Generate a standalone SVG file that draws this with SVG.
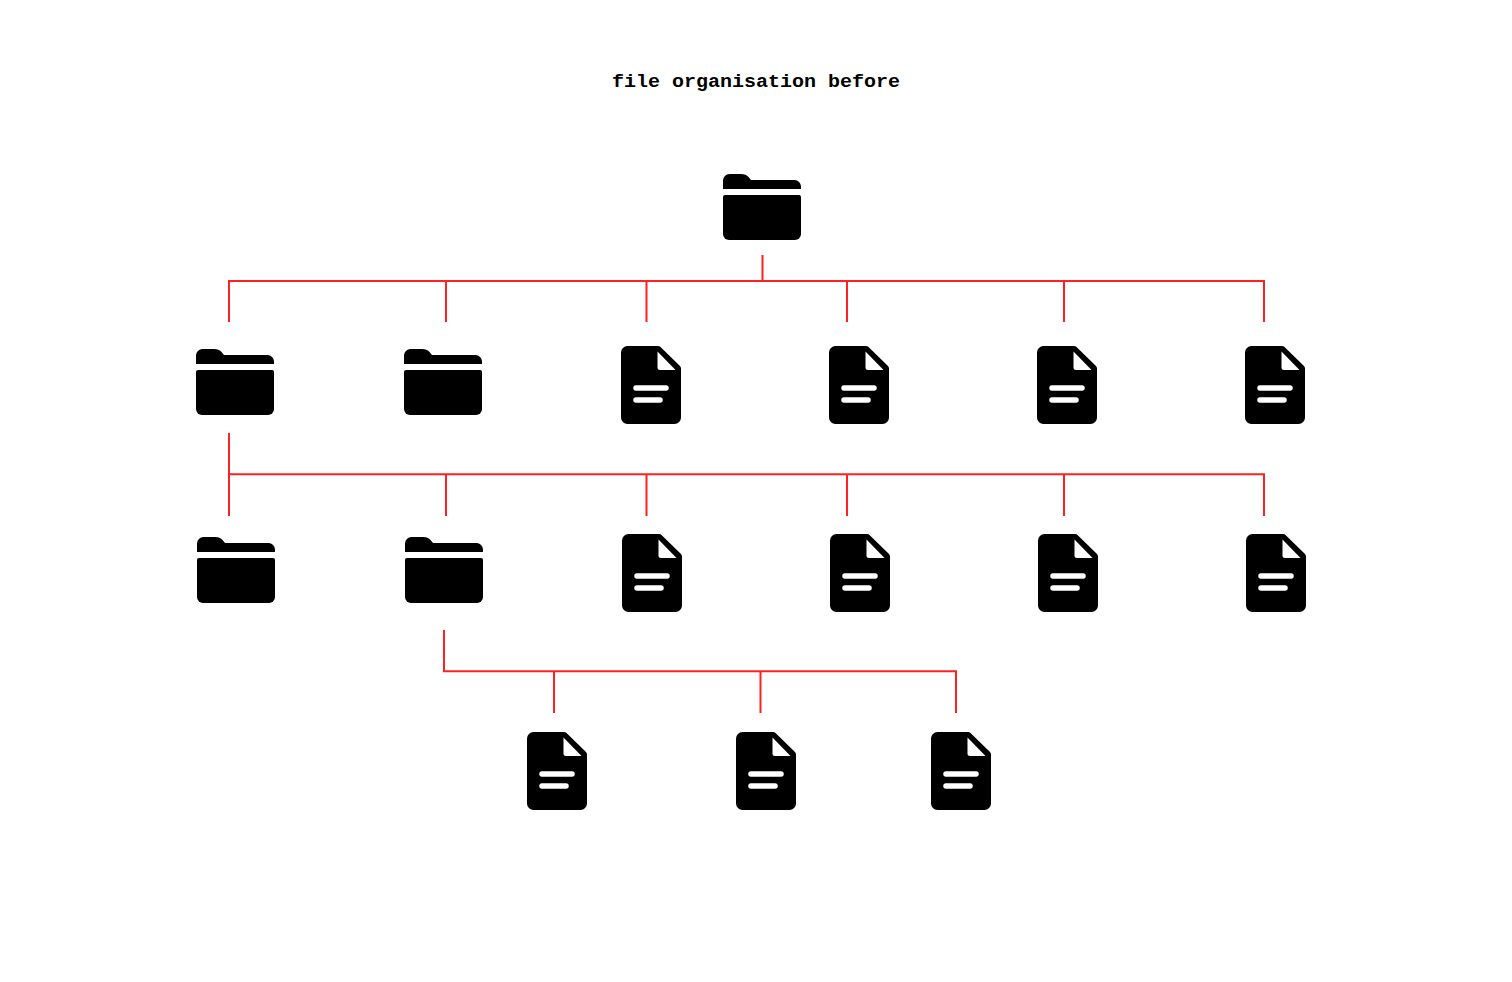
<svg xmlns="http://www.w3.org/2000/svg" xmlns:xlink="http://www.w3.org/1999/xlink" width="1512" height="982" viewBox="0 0 1512 982">
<style>
.title{font-family:"Liberation Mono","Courier New",monospace;font-size:18px;font-weight:700;fill:#000}
.conn{fill:none;stroke:#ff2020;stroke-width:2}
</style>
<defs>
<symbol id="folder" width="78" height="66" viewBox="0 0 78 66" overflow="visible">
<path d="M0 15V6.500A6.500 6.500 0 0 1 6.500 0H18Q23 0 25.500 3L28 6H71.500A6.500 6.500 0 0 1 78 12.500V15Z"/>
<path d="M2 21H76A2 2 0 0 1 78 23V60A6 6 0 0 1 72 66H6A6 6 0 0 1 0 60V23A2 2 0 0 1 2 21Z"/>
</symbol>
<symbol id="file" width="60" height="78" viewBox="0 0 60 78" overflow="visible">
<path d="M6.500 0H37Q38.500 0 39.500 1L59 20Q60 21 60 22.500V71.500A6.500 6.500 0 0 1 53.500 78H6.500A6.500 6.500 0 0 1 0 71.500V6.500A6.500 6.500 0 0 1 6.500 0Z"/>
<path d="M36.500 5.500L54.500 24H39Q36.500 24 36.500 21.500Z" fill="#fff"/>
<path d="M15 42H45M15 54H39" stroke="#fff" stroke-width="5.500" stroke-linecap="round" fill="none"/>
</symbol>
</defs>
<rect width="1512" height="982" fill="#fff"/>
<text id="title" class="title" x="612" y="87" textLength="288" lengthAdjust="spacingAndGlyphs">file organisation before</text>
<g id="connectors" class="conn">
<path d="M762.500 255V281M229 322V281H1264V322M446 281V322M646.500 281V322M847 281V322M1064 281V322"/>
<path d="M229 433V516M229 474.300H1264V516M446 474.300V516M646.500 474.300V516M847 474.300V516M1064 474.300V516"/>
<path d="M444 630V671.300H956V713M554 671.300V713M760.500 671.300V713"/>
</g>
<g id="folder-root"><use href="#folder" x="723" y="174"/></g>
<g id="folder-1"><use href="#folder" x="196" y="349"/></g>
<g id="folder-2"><use href="#folder" x="404" y="349"/></g>
<g id="file-1"><use href="#file" x="621" y="346"/></g>
<g id="file-2"><use href="#file" x="829" y="346"/></g>
<g id="file-3"><use href="#file" x="1037" y="346"/></g>
<g id="file-4"><use href="#file" x="1245" y="346"/></g>
<g id="folder-3"><use href="#folder" x="197" y="537"/></g>
<g id="folder-4"><use href="#folder" x="405" y="537"/></g>
<g id="file-5"><use href="#file" x="622" y="534"/></g>
<g id="file-6"><use href="#file" x="830" y="534"/></g>
<g id="file-7"><use href="#file" x="1038" y="534"/></g>
<g id="file-8"><use href="#file" x="1246" y="534"/></g>
<g id="file-9"><use href="#file" x="527" y="732"/></g>
<g id="file-10"><use href="#file" x="736" y="732"/></g>
<g id="file-11"><use href="#file" x="931" y="732"/></g>
</svg>
